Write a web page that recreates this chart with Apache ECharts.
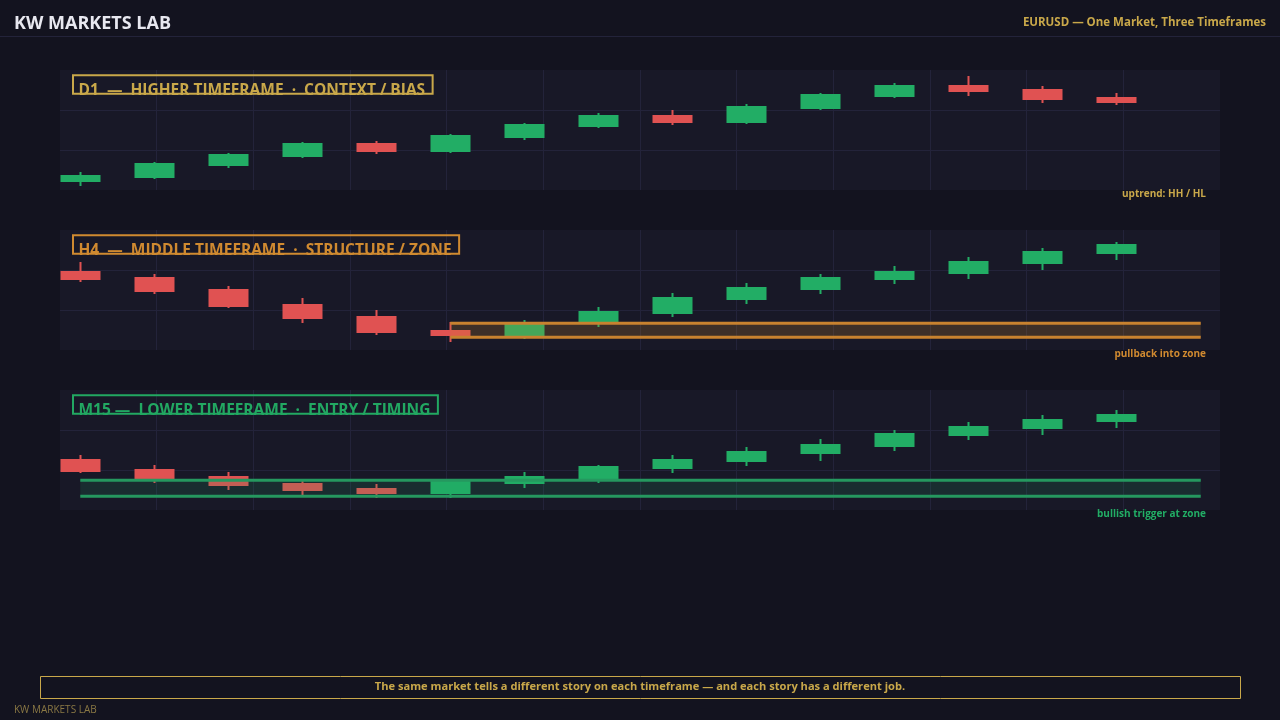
<!DOCTYPE html>
<html>
<head>
<meta charset="utf-8">
<script src="https://cdn.jsdelivr.net/npm/echarts@6/dist/echarts.min.js"></script>
<style>
html,body{margin:0;padding:0;background:#13131f;}
#chart{width:1280px;height:720px;}
</style>
</head>
<body>
<div id="chart"></div>
<script>
// ---------- data ----------
const candleIndex = [0,1,2,3,4,5,6,7,8,9,10,11,12,13,14];
// [open, close, low, high]
const d1Candles = [
  [9,14,4,18],[13,26,11,28],[25,35,22,37],[34,46,32,48],[46,39,36,49],
  [39,54,37,56],[53,65,50,67],[64,74,62,77],[74,68,65,80],[68,83,66,86],
  [82,95,80,97],[94,104,92,107],[104,99,94,114],[100,91,87,104],[92,88,85,97]
];
const h4Candles = [
  [78,71,68,88],[72,59,56,76],[60,44,42,64],[45,32,27,52],[33,18,15,40],
  [19,15,8,28],[15,27,11,30],[28,38,23,43],[37,52,33,57],[51,62,46,67],
  [61,72,56,76],[71,78,66,84],[77,88,71,93],[87,98,80,102],[97,105,90,108]
];
const m15Candles = [
  [50,39,37,55],[40,32,27,45],[33,25,20,38],[26,20,15,31],[21,17,12,26],
  [17,28,12,31],[27,33,22,38],[32,43,27,45],[42,50,37,55],[49,58,44,63],
  [57,65,49,71],[64,76,59,80],[75,83,70,88],[82,90,75,95],[89,95,82,100]
];
// zones: [xStart, xEnd, low, high]
const h4Zone = [5, 15.14, 12.7, 26.7];
const m15Zone = [0, 15.14, 13.7, 29.7];

const panelTitles = [
  'D1  \u2014  HIGHER TIMEFRAME  \u00b7  CONTEXT / BIAS',
  'H4  \u2014  MIDDLE TIMEFRAME  \u00b7  STRUCTURE / ZONE',
  'M15 \u2014  LOWER TIMEFRAME  \u00b7  ENTRY / TIMING'
];
const panelNotes = ['uptrend: HH / HL', 'pullback into zone', 'bullish trigger at zone'];
const headerTitle = 'KW MARKETS LAB';
const headerSubtitle = 'EURUSD \u2014 One Market, Three Timeframes';
const footerText = 'The same market tells a different story on each timeframe \u2014 and each story has a different job.';
const footerBrand = 'KW MARKETS LAB';

// ---------- style ----------
const GREEN = '#22ad65', RED = '#e05252';
const GOLD = '#c9a84a', ORANGE = '#d08a30', LABEL_GREEN = '#22a862';
const panelColors = [GOLD, ORANGE, LABEL_GREEN];
const FONT = '"Open Sans", "Noto Sans", sans-serif';
const gridTops = [70, 230, 390];
const GRID_LEFT = 60, GRID_RIGHT = 60, GRID_H = 120;

const chart = echarts.init(document.getElementById('chart'));

const measureCtx = document.createElement('canvas').getContext('2d');
function textWidth(t, font){ measureCtx.font = font; return measureCtx.measureText(t).width; }

const grids = [], xAxes = [], yAxes = [], series = [], graphics = [];
const candleSets = [d1Candles, h4Candles, m15Candles];
const zones = [null, h4Zone, m15Zone];
const zoneStyles = [null,
  {fill:'rgba(212,138,46,0.2)', stroke:'#c8822f'},
  {fill:'rgba(34,171,100,0.15)', stroke:'#25985f'}];

gridTops.forEach((top, p) => {
  grids.push({left:GRID_LEFT, right:GRID_RIGHT, top:top, height:GRID_H, show:true,
    backgroundColor:'#181827', borderWidth:0, containLabel:false});
  // candle x axis
  xAxes.push({type:'value', gridIndex:p, min:-0.274, max:15.4, show:false, splitLine:{show:false}});
  // vertical gridline axis
  xAxes.push({type:'value', gridIndex:p, min:0, max:12, interval:1,
    axisLine:{show:false}, axisTick:{show:false}, axisLabel:{show:false},
    splitLine:{show:true, showMinLine:false, showMaxLine:false, lineStyle:{color:'#23233a', width:1}}});
  yAxes.push({type:'value', gridIndex:p, min:0, max:120, interval:40,
    axisLine:{show:false}, axisTick:{show:false}, axisLabel:{show:false},
    splitLine:{show:true, showMinLine:false, showMaxLine:false, lineStyle:{color:'#23233a', width:1}}});

  series.push({
    type:'candlestick', xAxisIndex:p*2, yAxisIndex:p, z:2,
    barWidth:39,
    data: candleSets[p].map((c,i)=>[candleIndex[i], c[0], c[1], c[2], c[3]]),
    encode:{x:0, y:[1,2,3,4]},
    itemStyle:{color:GREEN, color0:RED, borderColor:GREEN, borderColor0:RED, borderWidth:2},
    animation:false
  });

  if (zones[p]) {
    const zs = zoneStyles[p];
    series.push({
      type:'custom', xAxisIndex:p*2, yAxisIndex:p, z:5, animation:false, silent:true,
      data:[zones[p]],
      encode:{x:[0,1], y:[2,3]},
      renderItem:(params, api)=>{
        const a = api.coord([api.value(0), api.value(3)]);
        const b = api.coord([api.value(1), api.value(2)]);
        return {type:'group', children:[
          {type:'rect', shape:{x:a[0], y:a[1], width:b[0]-a[0], height:b[1]-a[1]}, style:{fill:zs.fill}},
          {type:'line', shape:{x1:a[0], y1:a[1], x2:b[0], y2:a[1]}, style:{stroke:zs.stroke, lineWidth:3}},
          {type:'line', shape:{x1:a[0], y1:b[1], x2:b[0], y2:b[1]}, style:{stroke:zs.stroke, lineWidth:3}}
        ]};
      }
    });
  }

  // panel label
  const lf = 'bold 15.5px ' + FONT;
  const tw = textWidth(panelTitles[p], lf);
  graphics.push({type:'text', z:10, style:{text:panelTitles[p], x:78.5, y:top+20.5, fill:panelColors[p],
    font:lf, textAlign:'left', textVerticalAlign:'middle'}});
  graphics.push({type:'rect', z:11, shape:{x:73, y:top+5.3, width:tw+13, height:18.4},
    style:{fill:null, stroke:panelColors[p], lineWidth:2}});
  // note
  graphics.push({type:'text', z:10, style:{text:panelNotes[p], x:1206, y:top+GRID_H+4, fill:panelColors[p] === LABEL_GREEN ? GREEN : panelColors[p],
    font:'bold 10px ' + FONT, textAlign:'right', textVerticalAlign:'middle'}});
});

// header
graphics.push({type:'text', style:{text:headerTitle, x:14, y:24, fill:'#e8e8f0', font:'bold 18px ' + FONT, textAlign:'left', textVerticalAlign:'middle'}});
graphics.push({type:'text', style:{text:headerSubtitle, x:1266, y:22.5, fill:GOLD, font:'bold 11.5px ' + FONT, textAlign:'right', textVerticalAlign:'middle'}});
graphics.push({type:'line', shape:{x1:0, y1:36.5, x2:1280, y2:36.5}, style:{stroke:'#23233a', lineWidth:1}});
// footer
graphics.push({type:'rect', shape:{x:40.5, y:676.5, width:1200, height:22}, style:{fill:'#13131f', stroke:GOLD, lineWidth:1}});
graphics.push({type:'text', style:{text:footerText, x:640, y:687, fill:GOLD, font:'bold 11.1px ' + FONT, textAlign:'center', textVerticalAlign:'middle'}});
graphics.push({type:'text', style:{text:footerBrand, x:14, y:710, fill:'#8a7844', font:'10px ' + FONT, textAlign:'left', textVerticalAlign:'middle'}});

chart.setOption({
  backgroundColor:'#13131f',
  animation:false,
  grid:grids, xAxis:xAxes, yAxis:yAxes, series:series, graphic:graphics
});
</script>
</body>
</html>
